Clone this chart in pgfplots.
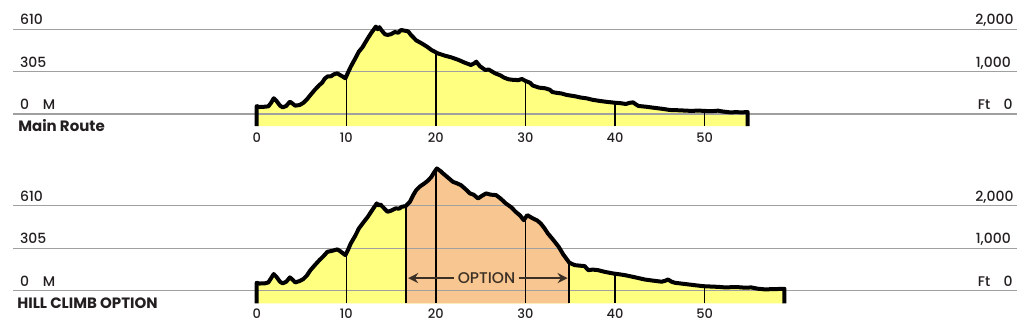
\documentclass[border=0pt]{standalone}
\usepackage{fontspec}
\setmainfont{Poppins}[UprightFont=* Medium, BoldFont=* Bold]
\usepackage{pgfplots}
\pgfplotsset{compat=1.18}
\usepackage{pgfplotstable}
\usetikzlibrary{arrows.meta}
\definecolor{fillyellow}{HTML}{FFFF80}
\definecolor{filloption}{HTML}{F8C690}
\definecolor{gridgray}{HTML}{A0A0A0}
\definecolor{arrowdark}{HTML}{3B3025}
\definecolor{txt}{HTML}{231F20}

% Main route profile (km, m)
\pgfplotstableread{
km elev
0 -86.4
0 57
0.3 50
0.8 52
1.3 55
1.6 80
1.9 113
2.2 95
2.6 60
2.9 48
3.3 58
3.7 89
4.0 75
4.3 60
4.8 65
5.2 80
5.6 105
6.0 137
6.5 175
7.0 209
7.3 225
7.6 255
7.9 270
8.3 272
8.6 285
9.0 293
9.3 280
9.6 270
9.9 257
10.2 300
10.5 341
11.0 400
11.4 449
11.8 480
12.4 545
12.8 585
13.3 629
13.5 610
13.7 625
13.9 605
14.3 575
14.6 569
15.0 575
15.4 590
15.8 585
16.1 605
16.5 600
16.9 595
17.2 570
17.4 557
17.8 530
18.4 509
19.0 485
19.5 461
20.2 437
21.0 420
21.7 408
22.5 390
23.2 370
23.9 353
24.3 365
24.5 377
24.9 345
25.5 317
25.9 320
26.6 293
27.2 278
27.6 262
28.1 250
28.6 246
29.2 244
29.6 252
30.0 238
30.5 225
30.8 205
31.5 190
32.2 185
32.7 175
33.0 158
33.5 152
34.0 148
34.6 137
35.5 128
36.2 118
36.8 113
37.5 102
38.3 94
39.0 88
40.0 81
40.6 78
41.2 72
41.6 80
42.0 84
42.3 70
42.6 58
43.5 52
44.3 45
45.2 38
46.1 29
47.0 27
48.0 24
48.6 22
49.2 25
50.0 22
50.7 20
51.5 24
52.0 18
52.8 12
53.5 13
54.2 12
54.8 14
54.8 -86.4
}\mainroute

% Hill climb option profile (km, m)
\pgfplotstableread{
km elev
0 -90
0 57
0.3 52
0.9 53
1.3 60
1.6 90
1.9 120
2.2 100
2.6 65
2.9 53
3.3 65
3.7 96
4.0 80
4.3 60
4.8 70
5.2 84
5.6 110
6.0 148
6.5 185
7.0 220
7.4 245
7.9 280
8.3 285
8.6 290
9.0 297
9.3 285
9.6 270
9.9 256
10.2 295
10.5 340
11.0 395
11.4 447
11.9 490
12.4 531
12.9 580
13.4 627
13.6 612
13.8 620
14.1 600
14.6 567
15.0 575
15.5 591
15.9 590
16.2 603
16.63 608
17.1 639
17.5 690
17.8 722
18.2 748
18.7 770
19.1 790
19.5 818
19.8 850
20.1 878
20.5 860
20.8 842
21.3 815
21.9 782
22.4 770
22.8 758
23.3 730
23.8 699
24.2 690
24.7 663
25.1 680
25.6 699
26.1 690
26.7 687
27.2 663
27.8 627
28.4 600
28.9 567
29.4 540
29.8 507
30.2 543
30.8 520
31.3 505
31.7 483
32.1 450
32.5 411
33.1 365
33.7 316
34.2 262
34.86 204
35.1 195
35.5 184
36.1 180
36.6 177
37.0 148
37.5 152
38.1 148
38.9 135
39.8 124
40.5 118
41.1 112
42.2 97
43.3 81
44.2 73
45.2 65
45.6 72
45.9 81
46.3 65
46.7 57
48.0 47
49.8 33
50.8 30
51.5 28
52.3 24
53.5 27
54.5 22
55.2 24
55.9 15
56.7 10
57.8 12
58.9 14
58.9 -90
}\hillclimb

% Option section (km, m)
\pgfplotstableread{
km elev
16.63 -90
16.63 608
17.1 639
17.5 690
17.8 722
18.2 748
18.7 770
19.1 790
19.5 818
19.8 850
20.1 878
20.5 860
20.8 842
21.3 815
21.9 782
22.4 770
22.8 758
23.3 730
23.8 699
24.2 690
24.7 663
25.1 680
25.6 699
26.1 690
26.7 687
27.2 663
27.8 627
28.4 600
28.9 567
29.4 540
29.8 507
30.2 543
30.8 520
31.3 505
31.7 483
32.1 450
32.5 411
33.1 365
33.7 316
34.2 262
34.86 204
34.86 -90
}\optionpart

\newcommand{\lab}{\fontsize{14}{14}\selectfont}
\newcommand{\ttl}{\fontsize{15}{16}\selectfont\bfseries}

\pgfplotsset{
  profile/.style={
    anchor=south west,
    x=8.96pt,
    xmin=-27.2, xmax=84.8,
    axis line style={draw=none},
    major tick length=0pt,
    ytick=\empty,
    xtick={0,10,20,30,40,50},
    /pgf/number format/assume math mode=true,
    clip=false,
  },
  gridl/.style={gridgray, line width=1.3pt, forget plot},
  tickl/.style={black, line width=1.3pt, forget plot},
  prof/.style={black, line width=4pt, line join=round, line cap=butt, forget plot},
}

\begin{document}
\begin{tikzpicture}
\useasboundingbox (0,0) rectangle (1024pt,330pt);

% ---------------- Main route ----------------
\begin{axis}[profile,
  at={(12.99pt,204pt)},
  y=0.1389pt, ymin=-86.4, ymax=800,
  xticklabel style={font=\fontsize{13}{13}\selectfont, text=txt, yshift=-3.4pt},
]
\addplot[fill=fillyellow, draw=none, forget plot] table {\mainroute};
\addplot[gridl] coordinates {(-27.2,0) (84.8,0)};
\addplot[gridl] coordinates {(-27.2,305) (84.8,305)};
\addplot[gridl] coordinates {(-27.2,610) (84.8,610)};
\addplot[tickl] coordinates {(10,-86.4) (10,280)};
\addplot[tickl] coordinates {(20,-86.4) (20,437)};
\addplot[tickl] coordinates {(30,-86.4) (30,238)};
\addplot[tickl] coordinates {(40,-86.4) (40,81)};
\addplot[tickl] coordinates {(50,-86.4) (50,22)};
\addplot[prof] table {\mainroute};

\node[anchor=base west, font=\lab, text=txt, yshift=4.4pt] at (axis cs:-26.8,610) {610};
\node[anchor=base west, font=\lab, text=txt, yshift=4.4pt] at (axis cs:-26.8,305) {305};
\node[anchor=base west, font=\lab, text=txt, yshift=4.4pt] at (axis cs:-26.8,0) {0};
\node[anchor=base west, font=\lab, text=txt, yshift=4.4pt] at (axis cs:-24.25,0) {M};
\node[anchor=base east, font=\lab, text=txt, yshift=4.4pt] at (axis cs:84.86,610) {2,000};
\node[anchor=base east, font=\lab, text=txt, yshift=4.4pt] at (axis cs:84.55,305) {1,000};
\node[anchor=base east, font=\lab, text=txt, yshift=4.4pt] at (axis cs:84.75,0) {0};
\node[anchor=base west, font=\lab, text=txt, yshift=4.4pt] at (axis cs:80.1,0) {Ft};
\node[anchor=base west, font=\ttl, text=txt] at (axis cs:-27.0,-127) {Main Route};
\end{axis}

% ---------------- Hill climb option ----------------
\begin{axis}[profile,
  at={(12.99pt,26.7pt)},
  y=0.1393pt, ymin=-90, ymax=900,
  xticklabel style={font=\fontsize{13}{13}\selectfont, text=txt, yshift=-2.1pt},
]
\addplot[fill=fillyellow, draw=none, forget plot] table {\hillclimb};
\addplot[fill=filloption, draw=none, forget plot] table {\optionpart};
\addplot[gridl] coordinates {(-27.2,0) (84.8,0)};
\addplot[gridl] coordinates {(-27.2,305) (84.8,305)};
\addplot[gridl] coordinates {(-27.2,610) (84.8,610)};
\addplot[tickl] coordinates {(10,-90) (10,280)};
\addplot[tickl] coordinates {(20,-90) (20,870)};
\addplot[tickl] coordinates {(30,-90) (30,530)};
\addplot[tickl] coordinates {(40,-90) (40,124)};
\addplot[tickl] coordinates {(50,-90) (50,33)};
\addplot[black, line width=2.2pt, forget plot] coordinates {(16.63,-90) (16.63,608)};
\addplot[black, line width=2.2pt, forget plot] coordinates {(34.86,-90) (34.86,204)};
\addplot[arrowdark, line width=2.6pt, -{Stealth[length=10pt,width=10pt]}, forget plot] coordinates {(22.0,91) (16.9,91)};
\addplot[arrowdark, line width=2.6pt, -{Stealth[length=10pt,width=10pt]}, forget plot] coordinates {(29.3,91) (34.7,91)};
\node[font=\fontsize{15.5}{15.5}\selectfont, text=arrowdark] at (axis cs:25.65,91) {OPTION};
\addplot[prof] table {\hillclimb};

\node[anchor=base west, font=\lab, text=txt, yshift=4.6pt] at (axis cs:-26.8,610) {610};
\node[anchor=base west, font=\lab, text=txt, yshift=4.6pt] at (axis cs:-26.8,305) {305};
\node[anchor=base west, font=\lab, text=txt, yshift=4.6pt] at (axis cs:-26.8,0) {0};
\node[anchor=base west, font=\lab, text=txt, yshift=4.6pt] at (axis cs:-24.25,0) {M};
\node[anchor=base east, font=\lab, text=txt, yshift=4.6pt] at (axis cs:84.86,610) {2,000};
\node[anchor=base east, font=\lab, text=txt, yshift=4.6pt] at (axis cs:84.55,305) {1,000};
\node[anchor=base east, font=\lab, text=txt, yshift=4.6pt] at (axis cs:84.75,0) {0};
\node[anchor=base west, font=\lab, text=txt, yshift=4.6pt] at (axis cs:80.1,0) {Ft};
\node[anchor=base west, font=\ttl, text=txt] at (axis cs:-27.1,-126) {HILL CLIMB OPTION};
\end{axis}
\end{tikzpicture}
\end{document}
